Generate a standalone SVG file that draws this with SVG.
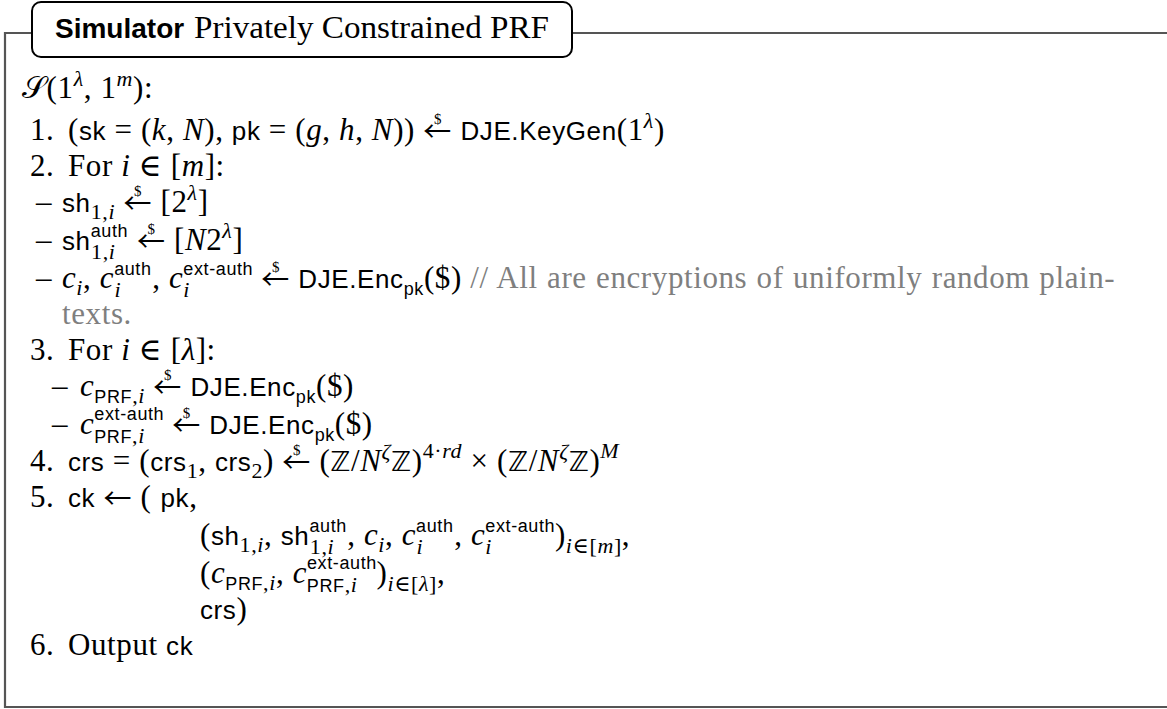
<svg xmlns="http://www.w3.org/2000/svg" width="1167" height="709" viewBox="0 0 1167 709">
<style>
.r{font-family:"Liberation Serif",serif;font-size:31px;fill:#000}
#body .r{letter-spacing:0.6px}
.it{font-style:italic}
.sf{font-family:"Liberation Sans",sans-serif;font-size:26px;font-style:normal}
.ss{font-family:"Liberation Sans",sans-serif;font-size:18px;font-style:normal}
.rs{font-size:22px}
.gr{fill:#7f7f7f}
.dl{font-size:15px;font-style:normal}
.ar{font-family:"Noto Sans CJK SC",sans-serif;font-size:28px;font-style:normal}
.el{font-family:"DejaVu Serif",serif;font-style:normal}
.bb{font-family:"DejaVu Sans",sans-serif;font-size:27px;font-style:normal}
.scr{font-family:"DejaVu Serif","DejaVu Sans","Noto Sans",serif}
.frame{fill:none;stroke:#555;stroke-width:2.2}
</style>
<rect width="1167" height="709" fill="#fff"/>
<g id="frame"><path class="frame" d="M32,33 H5 V707 H1167 M572,33 H1167"/></g>
<g id="title">
<rect x="32" y="2" width="540" height="55" rx="9" fill="#fff" stroke="#000" stroke-width="2"/>
<text x="55" y="38" font-family="Liberation Sans,sans-serif" font-weight="bold" font-size="28">Simulator</text>
<text class="r" x="194" y="38" textLength="355" lengthAdjust="spacingAndGlyphs">Privately Constrained PRF</text>
</g>
<g id="body">
<text class="r" x="22" y="98"><tspan class="scr">𝒮</tspan>(1<tspan class="it rs" y="86">λ</tspan><tspan y="98">, 1</tspan><tspan class="it rs" y="86">m</tspan><tspan y="98">):</tspan></text>
<text class="r" y="140"><tspan x="30">1.</tspan><tspan x="68">(</tspan><tspan class="sf">sk</tspan> = (<tspan class="it">k</tspan>, <tspan class="it">N</tspan>), <tspan class="sf">pk</tspan> = (<tspan class="it">g</tspan>, <tspan class="it">h</tspan>, <tspan class="it">N</tspan>)) <tspan class="ar" y="142">←</tspan><tspan class="dl" dx="-18" y="124">$</tspan><tspan dx="10" y="140"> </tspan><tspan class="sf">DJE.KeyGen</tspan>(1<tspan class="it rs" y="128">λ</tspan><tspan y="140">)</tspan></text>
<text class="r" y="176"><tspan x="30">2.</tspan><tspan x="68">For </tspan><tspan class="it">i</tspan> <tspan class="el">∈</tspan> [<tspan class="it">m</tspan>]:</text>
<text class="r" y="212"><tspan x="36">–</tspan><tspan x="62" class="sf">sh</tspan><tspan class="rs" y="219">1,</tspan><tspan class="rs it">i</tspan><tspan y="212"> </tspan><tspan class="ar" y="214">←</tspan><tspan class="dl" dx="-18" y="196">$</tspan><tspan dx="10" y="212"> [2</tspan><tspan class="it rs" y="200">λ</tspan><tspan y="212">]</tspan></text>
<text class="r" y="250"><tspan x="36">–</tspan><tspan x="62" class="sf">sh</tspan><tspan class="ss" y="237">auth</tspan><tspan class="rs" dx="-37" y="259">1,</tspan><tspan class="rs it">i</tspan><tspan dx="13" y="250"> </tspan><tspan class="ar" y="252">←</tspan><tspan class="dl" dx="-18" y="234">$</tspan><tspan dx="10" y="250"> [</tspan><tspan class="it">N</tspan>2<tspan class="it rs" y="238">λ</tspan><tspan y="250">]</tspan></text>
<text class="r" y="288"><tspan x="36">–</tspan><tspan x="62" class="it">c</tspan><tspan class="rs it" y="295">i</tspan><tspan y="288">, </tspan><tspan class="it">c</tspan><tspan class="ss" y="275">auth</tspan><tspan class="rs it" dx="-37" y="297">i</tspan><tspan dx="31" y="288">, </tspan><tspan class="it">c</tspan><tspan class="ss" y="275">ext-auth</tspan><tspan class="rs it" dx="-70" y="297">i</tspan><tspan dx="63" y="288"> </tspan><tspan class="ar" y="290">←</tspan><tspan class="dl" dx="-18" y="272">$</tspan><tspan dx="10" y="288"> </tspan><tspan class="sf">DJE.Enc</tspan><tspan class="ss" y="295">pk</tspan><tspan y="288">($) </tspan><tspan class="gr" word-spacing="1">// All are encryptions of uniformly random plain-</tspan></text>
<text class="r gr" x="62" y="324">texts.</text>
<text class="r" y="360"><tspan x="30">3.</tspan><tspan x="68">For </tspan><tspan class="it">i</tspan> <tspan class="el">∈</tspan> [<tspan class="it">λ</tspan>]:</text>
<text class="r" y="396"><tspan x="52">–</tspan><tspan x="80" class="it">c</tspan><tspan class="ss" y="403">PRF</tspan><tspan class="rs">,</tspan><tspan class="rs it">i</tspan><tspan y="396"> </tspan><tspan class="ar" y="398">←</tspan><tspan class="dl" dx="-18" y="380">$</tspan><tspan dx="10" y="396"> </tspan><tspan class="sf">DJE.Enc</tspan><tspan class="ss" y="403">pk</tspan><tspan y="396">($)</tspan></text>
<text class="r" y="434"><tspan x="52">–</tspan><tspan x="80" class="it">c</tspan><tspan class="ss" y="420">ext-auth</tspan><tspan class="ss" dx="-70" y="443">PRF</tspan><tspan class="rs">,</tspan><tspan class="rs it">i</tspan><tspan dx="19" y="434"> </tspan><tspan class="ar" y="436">←</tspan><tspan class="dl" dx="-18" y="418">$</tspan><tspan dx="10" y="434"> </tspan><tspan class="sf">DJE.Enc</tspan><tspan class="ss" y="441">pk</tspan><tspan y="434">($)</tspan></text>
<text class="r" y="471"><tspan x="30">4.</tspan><tspan x="68" class="sf">crs</tspan> = (<tspan class="sf">crs</tspan><tspan class="rs" y="478">1</tspan><tspan y="471">, </tspan><tspan class="sf">crs</tspan><tspan class="rs" y="478">2</tspan><tspan y="471">) </tspan><tspan class="ar" y="473">←</tspan><tspan class="dl" dx="-18" y="455">$</tspan><tspan dx="10" y="471"> (</tspan><tspan class="bb">ℤ</tspan>/<tspan class="it">N</tspan><tspan class="rs it" y="459">ζ</tspan><tspan class="bb" y="471">ℤ</tspan>)<tspan class="rs" y="458">4·</tspan><tspan class="rs it">rd</tspan><tspan y="471"> × (</tspan><tspan class="bb">ℤ</tspan>/<tspan class="it">N</tspan><tspan class="rs it" y="459">ζ</tspan><tspan class="bb" y="471">ℤ</tspan>)<tspan class="rs it" y="458">M</tspan></text>
<text class="r" y="507"><tspan x="30">5.</tspan><tspan x="68" class="sf">ck</tspan> <tspan class="ar" y="509">←</tspan><tspan y="507"> (</tspan><tspan class="sf" dx="9">pk</tspan>,</text>
<text class="r" y="545"><tspan x="200">(</tspan><tspan class="sf">sh</tspan><tspan class="rs" y="552">1,</tspan><tspan class="rs it">i</tspan><tspan y="545">, </tspan><tspan class="sf">sh</tspan><tspan class="ss" y="532">auth</tspan><tspan class="rs" dx="-37" y="554">1,</tspan><tspan class="rs it">i</tspan><tspan dx="13" y="545">, </tspan><tspan class="it">c</tspan><tspan class="rs it" y="552">i</tspan><tspan y="545">, </tspan><tspan class="it">c</tspan><tspan class="ss" y="532">auth</tspan><tspan class="rs it" dx="-37" y="554">i</tspan><tspan dx="31" y="545">, </tspan><tspan class="it">c</tspan><tspan class="ss" y="532">ext-auth</tspan><tspan class="rs it" dx="-70" y="554">i</tspan><tspan dx="63" y="545">)</tspan><tspan class="rs it" y="553">i</tspan><tspan class="rs el">∈</tspan><tspan class="rs">[</tspan><tspan class="rs it">m</tspan><tspan class="rs">]</tspan><tspan y="545">,</tspan></text>
<text class="r" y="583"><tspan x="200">(</tspan><tspan class="it">c</tspan><tspan class="ss" y="590">PRF</tspan><tspan class="rs">,</tspan><tspan class="rs it">i</tspan><tspan y="583">, </tspan><tspan class="it">c</tspan><tspan class="ss" y="569">ext-auth</tspan><tspan class="ss" dx="-70" y="592">PRF</tspan><tspan class="rs">,</tspan><tspan class="rs it">i</tspan><tspan dx="19" y="583">)</tspan><tspan class="rs it" y="591">i</tspan><tspan class="rs el">∈</tspan><tspan class="rs">[</tspan><tspan class="rs it">λ</tspan><tspan class="rs">]</tspan><tspan y="583">,</tspan></text>
<text class="r" y="619"><tspan x="200" class="sf">crs</tspan>)</text>
<text class="r" y="655"><tspan x="30">6.</tspan><tspan x="68">Output </tspan><tspan class="sf">ck</tspan></text>
</g>
</svg>
